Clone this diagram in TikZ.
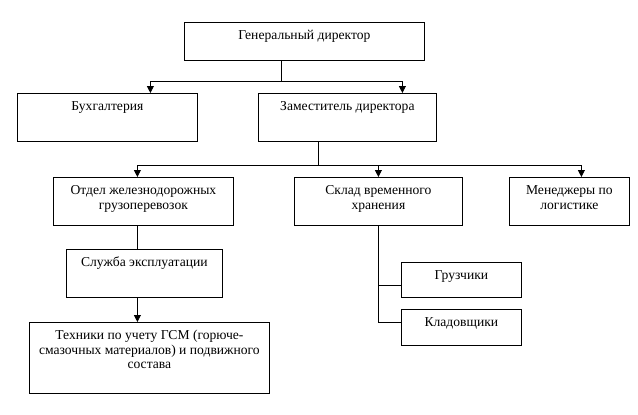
\documentclass[tikz,border=0pt]{standalone}
\usepackage{fontspec}
\setmainfont{Liberation Serif}
\usetikzlibrary{arrows.meta}
\newcommand{\boxtext}[1]{\begin{tabular}[t]{@{}c@{}}#1\end{tabular}}
\begin{document}
\begin{tikzpicture}[x=1pt,y=-1pt,
  box/.style={draw, line width=0.8pt, inner sep=0pt, anchor=north west},
  lbl/.style={font=\fontsize{13.6}{14.5}\selectfont, anchor=base, inner sep=0pt},
  ln/.style={line width=0.8pt},
  arr/.style={ln, -{Triangle[width=7pt,length=7pt]}}]
\useasboundingbox (0,0) rectangle (638,415);
% boxes
\node[box, minimum width=240pt, minimum height=38pt] (gen) at (184,22) {};
\node[box, minimum width=180pt, minimum height=48pt] (buh) at (17,93) {};
\node[box, minimum width=178pt, minimum height=48pt] (zam) at (258,93) {};
\node[box, minimum width=180pt, minimum height=48pt] (otd) at (53,177) {};
\node[box, minimum width=168pt, minimum height=48pt] (skl) at (294,177) {};
\node[box, minimum width=120pt, minimum height=48pt] (men) at (509,177) {};
\node[box, minimum width=156pt, minimum height=48pt] (slu) at (66,249) {};
\node[box, minimum width=120pt, minimum height=35pt] (gru) at (401,262) {};
\node[box, minimum width=120pt, minimum height=36pt] (kla) at (401,309) {};
\node[box, minimum width=240pt, minimum height=71pt] (teh) at (29,322) {};
% labels
\node[lbl] (gen-t) at ([yshift=-17.5pt]gen.north) {\boxtext{Генеральный директор}};
\node[lbl] (buh-t) at ([yshift=-17.5pt]buh.north) {\boxtext{Бухгалтерия}};
\node[lbl] (zam-t) at ([yshift=-17.5pt]zam.north) {\boxtext{Заместитель директора}};
\node[lbl] (otd-t) at ([yshift=-17.5pt]otd.north) {\boxtext{Отдел железнодорожных\\грузоперевозок}};
\node[lbl] (skl-t) at ([yshift=-17.5pt]skl.north) {\boxtext{Склад временного\\хранения}};
\node[lbl] (men-t) at ([yshift=-17.5pt]men.north) {\boxtext{Менеджеры по\\логистике}};
\node[lbl] (slu-t) at ([yshift=-17.5pt]slu.north) {\boxtext{Служба эксплуатации}};
\node[lbl] (gru-t) at ([yshift=-17.5pt]gru.north) {\boxtext{Грузчики}};
\node[lbl] (kla-t) at ([yshift=-17.5pt]kla.north) {\boxtext{Кладовщики}};
\node[lbl] (teh-t) at ([yshift=-17.5pt]teh.north) {\boxtext{Техники по учету ГСМ (горюче-\\смазочных материалов) и подвижного\\состава}};
% connectors
\draw[ln] ([xshift=-23pt]gen.south) -- ++(0,21) coordinate (gj);
\draw[arr] (gj) -| ([xshift=43pt]buh.north);
\draw[arr] (gj) -| ([xshift=55pt]zam.north);
\draw[ln] ([xshift=-29pt]zam.south) -- ++(0,24) coordinate (zj);
\draw[arr] (zj) -| ([xshift=-6pt]otd.north);
\draw[arr] (zj) -| (skl.north);
\draw[arr] (zj) -| ([xshift=12pt]men.north);
\draw[ln] ([xshift=-6pt]otd.south) coordinate (o1) -- (o1 |- slu.north);
\draw[arr] ([xshift=-7pt]slu.south) coordinate (s1) -- (s1 |- teh.north);
\coordinate (k1) at ([yshift=5pt]kla.west);
\coordinate (g1) at ([yshift=-5.5pt]gru.west);
\draw[ln] (skl.south) |- (k1);
\draw[ln] (skl.south |- g1) -- (g1);
\end{tikzpicture}
\end{document}
